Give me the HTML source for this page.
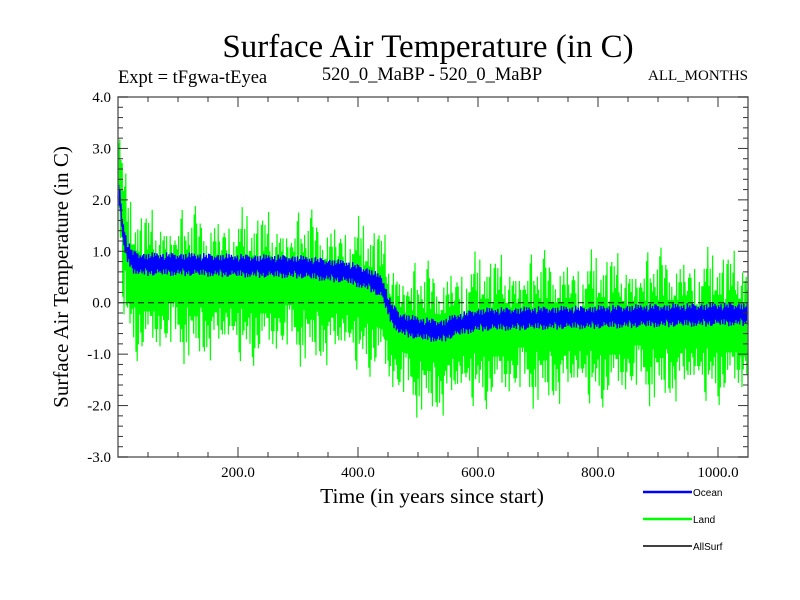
<!DOCTYPE html>
<html><head><meta charset="utf-8"><style>
body{margin:0;background:#fff}
svg{display:block}
text{font-family:"Liberation Serif",serif;fill:#000}
</style></head><body>
<svg id="c" width="800" height="600" xmlns="http://www.w3.org/2000/svg">
<text x="428" y="57" font-size="33" text-anchor="middle">Surface Air Temperature (in C)</text>
<text x="118" y="83" font-size="18.5">Expt = tFgwa-tEyea</text>
<text x="432" y="80" font-size="18.5" text-anchor="middle">520_0_MaBP - 520_0_MaBP</text>
<text x="748" y="80" font-size="15" text-anchor="end">ALL_MONTHS</text>
<text transform="translate(68,277) rotate(-90)" font-size="21" text-anchor="middle">Surface Air Temperature (in C)</text>
<text x="432" y="503" font-size="21.5" text-anchor="middle">Time (in years since start)</text>
<g id="plot"></g>
<g id="axes"></g>
<g>
<g><line x1="643" y1="492" x2="692" y2="492" stroke="#0000ff" stroke-width="2.5"/><text x="693" y="496" font-size="10" style="font-family:'Liberation Sans',sans-serif">Ocean</text></g>
<g><line x1="643" y1="519" x2="692" y2="519" stroke="#00ff00" stroke-width="2.5"/><text x="693" y="523" font-size="10" style="font-family:'Liberation Sans',sans-serif">Land</text></g>
<g><line x1="643" y1="546" x2="692" y2="546" stroke="#000" stroke-width="1.5"/><text x="693" y="550" font-size="10" style="font-family:'Liberation Sans',sans-serif">AllSurf</text></g>
</g>
</svg>
<script>
const knotYears=[0,3,8,15,25,40,100,200,300,380,420,440,455,470,500,540,560,600,700,800,900,1050];
const oceanMean=[2.2,2.0,1.4,1.0,0.8,0.75,0.75,0.72,0.7,0.6,0.45,0.3,-0.2,-0.4,-0.5,-0.55,-0.45,-0.33,-0.3,-0.28,-0.25,-0.22];
const landOffset=[0.6,0.4,0.0,-0.2,-0.35,-0.4,-0.4,-0.4,-0.4,-0.4,-0.35,-0.3,-0.2,-0.2,-0.2,-0.2,-0.2,-0.2,-0.22,-0.22,-0.22,-0.22];
const landDev=[0.5,-0.7,0.2,0.9,-0.3,-1.0,0.4,0.1,-0.5,0.7,-0.2,1.3,-0.8,0.3,-0.4,0.6,-1.2,0.2,0.8,-0.6,0.0,0.5,-0.9,0.3,1.0,-0.4,-0.1,0.7,-0.7,0.4,-1.4,0.6,0.2,-0.3,0.9,-0.5,0.1,-0.8,1.1,0.3,-0.6,0.5,-0.2,0.8,-1.0,0.2,0.6,-0.4,0.0,-0.9,1.2,-0.3,0.4,-0.6,0.7,-0.1,-1.1,0.5,0.3,-0.5,0.9,-0.7,0.1,0.6,-0.3,-0.8,1.0,0.2,-0.4,0.5,-1.3,0.3,0.7,-0.2,-0.6,0.8,0.0,-0.9,0.4,1.1,-0.5,0.2,-0.7,0.6,-0.1,0.9,-1.0,0.3,-0.3,0.7,-0.6,1.4,-0.4,0.1,-0.8,0.5,0.2];
const oceanDev=[0.1,-0.05,0.15,-0.12,0.03,0.08,-0.15,0.12,-0.02,0.05,-0.1,0.14,-0.07,0.0,0.1,-0.13,0.06,-0.04,0.11,-0.09,0.02,0.13,-0.11,0.04,-0.06,0.09,-0.14,0.07,-0.01,0.12,-0.08];
const yTicks=["4.0","3.0","2.0","1.0","0.0","-1.0","-2.0","-3.0"];
const xTickYears=[200,400,600,800,1000];
const X0=118,X1=748,Y0=97,Y1=457,XMAX=1050,YMIN=-3,YMAX=4;
const sx=v=>X0+(v/XMAX)*(X1-X0), sy=v=>Y1-(v-YMIN)/(YMAX-YMIN)*(Y1-Y0);
function interp(arr,t){for(let i=1;i<knotYears.length;i++){if(t<=knotYears[i]){const f=(t-knotYears[i-1])/(knotYears[i]-knotYears[i-1]);return arr[i-1]+f*(arr[i]-arr[i-1]);}}return arr[arr.length-1];}
const NS="http://www.w3.org/2000/svg";
const plot=document.getElementById('plot'),axes=document.getElementById('axes');
let land="",ocean="";
for(let t=0;t<=XMAX;t++){
  const om=interp(oceanMean,t);
  const sg=(t%2)?1:-1;
  const lv=om+interp(landOffset,t)+sg*(0.35+0.85*Math.abs(landDev[(t*7)%landDev.length]));
  const ov=om+sg*(0.08+1.0*Math.abs(oceanDev[(t*5)%oceanDev.length]));
  land+=(t?"L":"M")+sx(t).toFixed(2)+" "+sy(lv).toFixed(2);
  ocean+=(t?"L":"M")+sx(t).toFixed(2)+" "+sy(ov).toFixed(2);
}
const lp=document.createElementNS(NS,'path');lp.setAttribute('d',land);lp.setAttribute('fill','none');lp.setAttribute('stroke','#00ff00');lp.setAttribute('stroke-width','1.2');


plot.appendChild(lp);
const op=document.createElementNS(NS,'path');op.setAttribute('d',ocean);op.setAttribute('fill','none');op.setAttribute('stroke','#0000ff');op.setAttribute('stroke-width','1.4');


plot.appendChild(op);
const zl=document.createElementNS(NS,'line');zl.setAttribute('x1',X0);zl.setAttribute('x2',X1);zl.setAttribute('y1',sy(0));zl.setAttribute('y2',sy(0));zl.setAttribute('stroke','#000');zl.setAttribute('stroke-dasharray','6,4');


plot.appendChild(zl);
let g="";
g+=`<rect x="${X0}" y="${Y0}" width="${X1-X0}" height="${Y1-Y0}" fill="none" stroke="#666" stroke-width="1.5"/>`;
for(let v=YMIN;v<=YMAX+1e-6;v+=0.2){const y=sy(v);const maj=Math.abs(v-Math.round(v))<1e-6;const L=maj?10:5;g+=`<line x1="${X0}" x2="${X0+L}" y1="${y}" y2="${y}" stroke="#333"/><line x1="${X1}" x2="${X1-L}" y1="${y}" y2="${y}" stroke="#333"/>`;}
for(let v=50;v<XMAX;v+=50){const x=sx(v);const L=v%200===0?10:5;g+=`<line x1="${x}" x2="${x}" y1="${Y1}" y2="${Y1-L}" stroke="#333"/><line x1="${x}" x2="${x}" y1="${Y0}" y2="${Y0+L}" stroke="#333"/>`;}
axes.innerHTML=g;
yTicks.forEach(s=>{const t=document.createElementNS(NS,'text');t.setAttribute('x',111);t.setAttribute('y',sy(parseFloat(s))+5);t.setAttribute('text-anchor','end');t.setAttribute('font-size','15');t.textContent=s;


axes.appendChild(t);});
xTickYears.forEach(v=>{const t=document.createElementNS(NS,'text');t.setAttribute('x',sx(v));t.setAttribute('y',477);t.setAttribute('text-anchor','middle');t.setAttribute('font-size','15');t.textContent=v.toFixed(1);


axes.appendChild(t);});
</script>
</body></html>
